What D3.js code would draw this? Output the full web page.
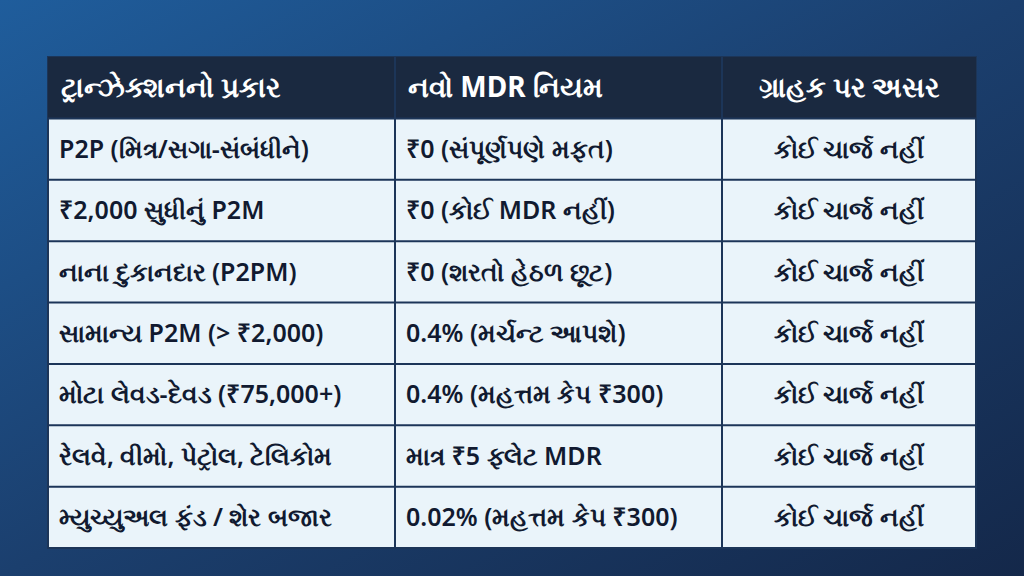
<!DOCTYPE html>
<html><head><meta charset="utf-8">
<script src="https://cdn.jsdelivr.net/npm/d3@7/dist/d3.min.js"></script>
<style>body{margin:0;overflow:hidden}</style>
</head><body>
<svg id="c" width="1024" height="576"></svg>
<script>
const headers = ["ટ્રાન્ઝેક્શનનો પ્રકાર", "નવો MDR નિયમ", "ગ્રાહક પર અસર"];
const transactionTypes = ["P2P (મિત્ર/સગા-સંબંધીને)", "₹2,000 સુધીનું P2M", "નાના દુકાનદાર (P2PM)", "સામાન્ય P2M (> ₹2,000)", "મોટા લેવડ-દેવડ (₹75,000+)", "રેલવે, વીમો, પેટ્રોલ, ટેલિકોમ", "મ્યુચ્યુઅલ ફંડ / શેર બજાર"];
const mdrRules = ["₹0 (સંપૂર્ણપણે મફત)", "₹0 (કોઈ MDR નહીં)", "₹0 (શરતો હેઠળ છૂટ)", "0.4% (મર્ચન્ટ આપશે)", "0.4% (મહત્તમ કેપ ₹300)", "માત્ર ₹5 ફ્લેટ MDR", "0.02% (મહત્તમ કેપ ₹300)"];
const customerImpact = ["કોઈ ચાર્જ નહીં", "કોઈ ચાર્જ નહીં", "કોઈ ચાર્જ નહીં", "કોઈ ચાર્જ નહીં", "કોઈ ચાર્જ નહીં", "કોઈ ચાર્જ નહીં", "કોઈ ચાર્જ નહીં"];

const svg = d3.select("#c");
const defs = svg.append("defs");
const g = defs.append("linearGradient").attr("id","bg").attr("x1",0).attr("y1",0).attr("x2",1).attr("y2",1);
g.append("stop").attr("offset","0%").attr("stop-color","#1f5d9c");
g.append("stop").attr("offset","50%").attr("stop-color","#1b3f6e");
g.append("stop").attr("offset","100%").attr("stop-color","#14284a");
svg.append("rect").attr("width",1024).attr("height",576).attr("fill","url(#bg)");

const font = "'Noto Sans', 'DejaVu Sans', sans-serif";
const colEdges = [48, 395, 722, 976];
const rows = d3.range(transactionTypes.length + 1);
const y = d3.scaleBand().domain(rows).range([57, 548]);
const data = transactionTypes.map((t,i)=>[t, mdrRules[i], customerImpact[i]]);

svg.append("rect").attr("x",colEdges[0]).attr("y",57).attr("width",colEdges[3]-colEdges[0]).attr("height",491)
  .attr("fill","#eaf4fa").attr("stroke","#1c3558").attr("stroke-width",2);
svg.append("rect").attr("x",colEdges[0]).attr("y",y(0)).attr("width",colEdges[3]-colEdges[0]).attr("height",y.bandwidth())
  .attr("fill","#1a2940");

rows.slice(1).forEach(r=>{
  svg.append("line").attr("x1",colEdges[0]).attr("x2",colEdges[3]).attr("y1",y(r)).attr("y2",y(r))
    .attr("stroke","#1c3558").attr("stroke-width",2);
});
[1,2].forEach(c=>{
  svg.append("line").attr("x1",colEdges[c]).attr("x2",colEdges[c]).attr("y1",57).attr("y2",548)
    .attr("stroke","#1c3558").attr("stroke-width",2);
});

function cellX(c){ return c===2 ? (colEdges[2]+colEdges[3])/2 : colEdges[c]+11; }
headers.forEach((h,c)=>{
  svg.append("text").attr("x", c===2 ? cellX(c) : colEdges[c]+13).attr("y", y(0)+y.bandwidth()/2)
    .attr("dy","0.35em").attr("text-anchor", c===2?"middle":"start")
    .attr("fill","#fff").attr("font-family",font).attr("font-weight","bold").attr("font-size",28).text(h);
});
data.forEach((row,i)=>{
  row.forEach((v,c)=>{
    svg.append("text").attr("x",cellX(c)).attr("y",y(i+1)+y.bandwidth()/2).attr("dy","0.35em")
      .attr("text-anchor", c===2?"middle":"start")
      .attr("fill","#111a30").attr("font-family",font).attr("font-weight",600).attr("font-size",25).text(v);
  });
});
</script>
</body></html>
